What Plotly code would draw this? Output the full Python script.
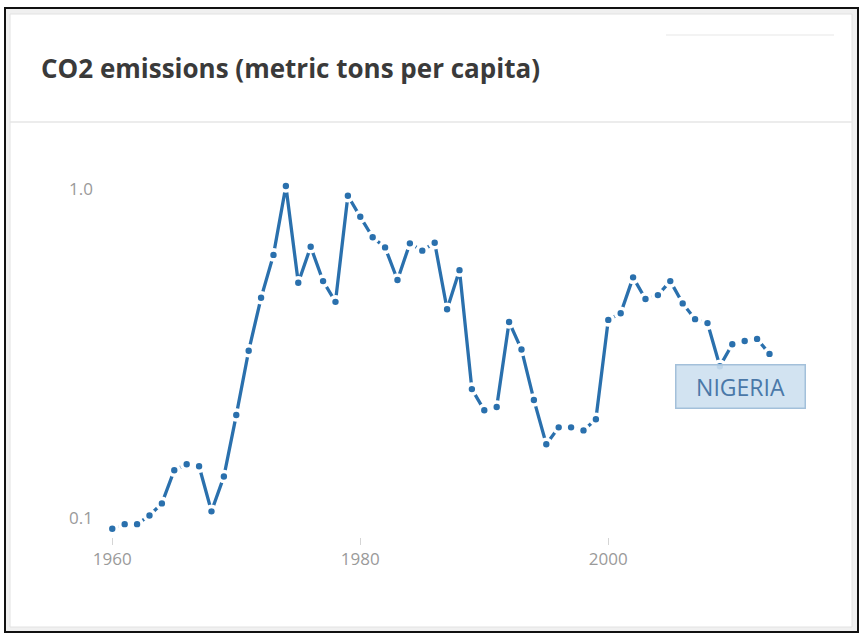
import plotly.graph_objects as go

# CO2 emissions per capita, Nigeria (metric tons)
years = list(range(1960, 2014))
co2_per_capita = [
    0.093, 0.096, 0.096, 0.102, 0.111, 0.140, 0.146, 0.144, 0.105, 0.134,
    0.206, 0.323, 0.468, 0.632, 1.023, 0.520, 0.669, 0.526, 0.455, 0.956,
    0.825, 0.715, 0.666, 0.530, 0.685, 0.651, 0.688, 0.432, 0.568, 0.247,
    0.213, 0.218, 0.395, 0.326, 0.229, 0.168, 0.189, 0.189, 0.185, 0.200,
    0.401, 0.420, 0.540, 0.464, 0.477, 0.526, 0.450, 0.403, 0.392, 0.290,
    0.338, 0.346, 0.351, 0.316,
]
country = "NIGERIA"
title_text = "CO2 emissions (metric tons per capita)"
x_ticks = [1960, 1980, 2000]
y_ticks = [0.1, 1.0]
y_tick_text = ["0.1", "1.0"]

W, H = 863, 635
L, R, T, B = 100, 63, 170, 98  # plot area: x 100..800, y 170..537
PW, PH = W - L - R, H - T - B

BLUE = "#2a70ad"


def px(x):
    return (x - L) / PW


def py(y):
    return (H - B - y) / PH


fig = go.Figure()
fig.add_trace(go.Scatter(
    x=years, y=co2_per_capita, mode="lines+markers",
    line=dict(color=BLUE, width=3.3),
    marker=dict(color=BLUE, size=10, line=dict(color="white", width=3.6)),
    hoverinfo="x+y", showlegend=False,
))

shapes = [
    # outer frame
    dict(type="rect", xref="paper", yref="paper", x0=px(5), x1=px(858), y0=py(632), y1=py(8),
         line=dict(color="#111111", width=2), fillcolor="#f0f0f0", layer="below"),
    # card
    dict(type="rect", xref="paper", yref="paper", x0=px(10), x1=px(852), y0=py(627), y1=py(14),
         line=dict(color="#e2e2e2", width=1), fillcolor="white", layer="below"),
    # header separator
    dict(type="line", xref="paper", yref="paper", x0=px(10), x1=px(852), y0=py(122), y1=py(122),
         line=dict(color="#e6e6e6", width=1.5), layer="below"),
    # faint rule, top right
    dict(type="line", xref="paper", yref="paper", x0=px(666), x1=px(834), y0=py(35), y1=py(35),
         line=dict(color="#efefef", width=1.5), layer="below"),
]

annotations = [
    dict(text=title_text, xref="paper", yref="paper", x=px(39), y=py(68),
         xanchor="left", yanchor="middle", showarrow=False,
         font=dict(family="Open Sans", size=26, color="#3a3a3a", weight="bold")),
    dict(text=country, xref="paper", yref="paper", x=px(740), y=py(386.5),
         xanchor="center", yanchor="middle", showarrow=False,
         width=124, height=38, borderpad=2, borderwidth=1.5,
         bgcolor="rgba(205,224,239,0.9)", bordercolor="#a3c0da",
         font=dict(family="Open Sans", size=23, color="#4a78a8")),
]

fig.update_layout(
    width=W, height=H,
    margin=dict(l=L, r=R, t=T, b=B),
    paper_bgcolor="white", plot_bgcolor="rgba(0,0,0,0)",
    shapes=shapes, annotations=annotations,
    xaxis=dict(range=[1959.01, 2015.46], tickvals=x_ticks, showgrid=False, zeroline=False,
               showline=False, ticks="outside", ticklen=7, tickcolor="#d5d5d5", tickwidth=1,
               tickfont=dict(family="Open Sans", size=17, color="#9a9a9a")),
    yaxis=dict(type="log", range=[-1.0568, 0.0587], tickvals=y_ticks, ticktext=y_tick_text,
               showgrid=False, zeroline=False, showline=False, ticks="",
               ticklabelstandoff=6,
               tickfont=dict(family="Open Sans", size=17, color="#9a9a9a")),
)

fig.write_html("out.html")
